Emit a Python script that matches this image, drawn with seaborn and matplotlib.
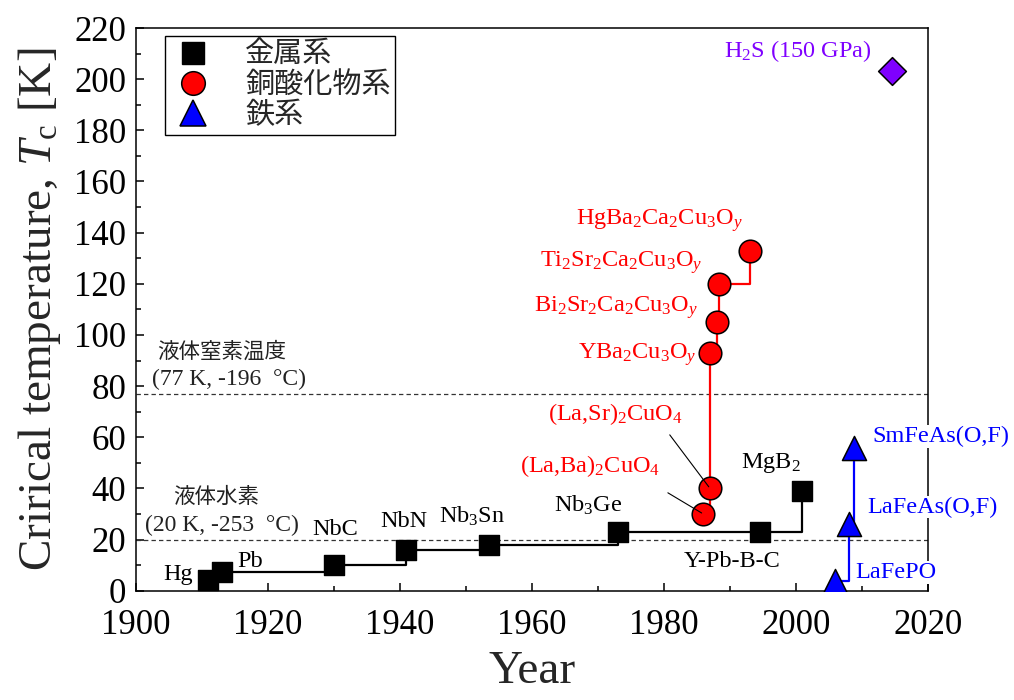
import matplotlib
matplotlib.use("Agg")
import matplotlib.pyplot as plt
from matplotlib.lines import Line2D
from matplotlib.ticker import MultipleLocator
import pandas as pd
import seaborn as sns

# ---- data: discovery year and critical temperature (K) ----
metal_names = ["Hg", "Pb", "NbC", "NbN", "Nb$_3$Sn", "Nb$_3$Ge", "Y-Pb-B-C", "MgB$_2$"]
metal_year = [1911, 1913, 1930, 1941, 1953.5, 1973, 1994.5, 2001]
metal_tc = [4.2, 7.2, 10, 16, 18, 23, 23, 39]

cuprate_names = ["(La,Ba)$_2$CuO$_4$", "(La,Sr)$_2$CuO$_4$", "YBa$_2$Cu$_3$O$_y$",
                 "Bi$_2$Sr$_2$Ca$_2$Cu$_3$O$_y$", "Ti$_2$Sr$_2$Ca$_2$Cu$_3$O$_y$",
                 "HgBa$_2$Ca$_2$Cu$_3$O$_y$"]
cuprate_year = [1986, 1987, 1987, 1988, 1988.3, 1993]
cuprate_tc = [30, 40, 93, 105, 120, 133]

iron_names = ["LaFePO", "LaFeAs(O,F)", "SmFeAs(O,F)"]
iron_year = [2006, 2008, 2008.8]
iron_tc = [4, 26, 56]

hydride_names = ["H$_2$S (150 GPa)"]
hydride_year = [2014.5]
hydride_tc = [203]

legend_labels = ["金属系", "銅酸化物系", "鉄系"]
ref_levels = [77, 20]
ref_titles = ["液体窒素温度", "液体水素"]
ref_details = ["(77 K, -196  °C)", "(20 K, -253  °C)"]

# ---- label placement (offsets in points from each marker) ----
metal_offsets = [(-11, 0, "right"), (11, 4, "left"), (0.7, 22, "center"), (-2, 16.5, "center"),
                 (-12, 16, "center"), (-21.5, 14.5, "center"), (-20, -25, "center"),
                 (-23, 16.7, "center")]
cuprate_offsets = [(-31.4, 30.4), (-19.6, 49.4), (-9.5, -4.3), (-13.5, 7.4), (-11.4, 12.2),
                   (-4.9, 18.5)]
iron_offsets = [(14, 2), (13.1, 8.3), (13.6, 4.1)]
leader_offsets = {0: (-25.6, 15.3), 1: (-29, 38.6)}

sns.set_theme(style="ticks")
plt.rcParams["font.family"] = ["Liberation Serif", "Noto Sans CJK JP"]
plt.rcParams["mathtext.fontset"] = "custom"
plt.rcParams["mathtext.rm"] = "Liberation Serif"
plt.rcParams["mathtext.it"] = "Liberation Serif:italic"
plt.rcParams["mathtext.bf"] = "Liberation Serif:bold"

RED = "#ff0000"
BLUE = "#0000ff"
PURPLE = "#7f00ff"
JP = ["Noto Sans CJK JP", "DejaVu Sans"]
LABEL_SIZE = 17.5

fig = plt.figure(figsize=(10.14, 7.0), dpi=100)
ax = fig.add_axes([0.134, 0.156, 0.781, 0.804])

metals = pd.DataFrame({"year": metal_year, "tc": metal_tc})
cuprates = pd.DataFrame({"year": cuprate_year, "tc": cuprate_tc})
irons = pd.DataFrame({"year": iron_year, "tc": iron_tc})
hydrides = pd.DataFrame({"year": hydride_year, "tc": hydride_tc})

# reference temperatures
for lvl in ref_levels:
    ax.axhline(lvl, color="#333333", lw=0.9, ls=(0, (3.5, 2.5)), zorder=1)

# record-progression step lines
for df, col in [(metals, "black"), (cuprates, RED), (irons, BLUE)]:
    sns.lineplot(data=df, x="year", y="tc", ax=ax, estimator=None, sort=False,
                 drawstyle="steps-post", color=col, lw=1.6, zorder=2)

# markers
sns.scatterplot(data=metals, x="year", y="tc", ax=ax, marker="s", s=225,
                color="black", edgecolor="black", linewidth=1, zorder=2.6)
sns.scatterplot(data=cuprates, x="year", y="tc", ax=ax, marker="o", s=265,
                color=RED, edgecolor="black", linewidth=1.1, zorder=2.6)
sns.scatterplot(data=irons, x="year", y="tc", ax=ax, marker="^", s=300,
                color=BLUE, edgecolor="black", linewidth=1.1, zorder=2.6)
sns.scatterplot(data=hydrides, x="year", y="tc", ax=ax, marker="D", s=200,
                color=PURPLE, edgecolor="black", linewidth=1.1, zorder=2.6)

# labels
for name, x, y, (dx, dy, ha) in zip(metal_names, metal_year, metal_tc, metal_offsets):
    ax.annotate(name, (x, y), xytext=(dx, dy), textcoords="offset points",
                ha=ha, va="baseline", fontsize=LABEL_SIZE, color="black")
for i, (name, x, y, (dx, dy)) in enumerate(zip(cuprate_names, cuprate_year, cuprate_tc,
                                                 cuprate_offsets)):
    ax.annotate(name, (x, y), xytext=(dx, dy), textcoords="offset points",
                ha="right", va="baseline", fontsize=LABEL_SIZE, color=RED)
    if i in leader_offsets:
        ax.annotate("", (x, y), xytext=leader_offsets[i], textcoords="offset points",
                    arrowprops=dict(arrowstyle="-", color="black", lw=0.8,
                                    shrinkA=0, shrinkB=1.5), zorder=4)
for name, x, y, (dx, dy) in zip(iron_names, iron_year, iron_tc, iron_offsets):
    ax.annotate(name, (x, y), xytext=(dx, dy), textcoords="offset points",
                ha="left", va="baseline", fontsize=LABEL_SIZE, color=BLUE,
                annotation_clip=False, bbox=dict(fc="white", ec="none", pad=0.5), zorder=5)
for name, x, y in zip(hydride_names, hydride_year, hydride_tc):
    ax.annotate(name, (x, y), xytext=(-14.2, 10.4), textcoords="offset points",
                ha="right", va="baseline", fontsize=LABEL_SIZE, color=PURPLE)

# reference-level captions
for lvl, title, detail, tx, dx in zip(ref_levels, ref_titles, ref_details,
                                      [1903.3, 1905.6], [1902.4, 1901.4]):
    ax.text(tx, lvl + 14.3, title, fontsize=15.5, family=JP, color="#222222",
            ha="left", va="baseline")
    ax.text(dx, lvl + 3.5, detail, fontsize=17, color="#222222", ha="left", va="baseline")

ax.set_xlim(1900, 2020)
ax.set_ylim(0, 220)
ax.xaxis.set_major_locator(MultipleLocator(20))
ax.xaxis.set_minor_locator(MultipleLocator(10))
ax.yaxis.set_major_locator(MultipleLocator(20))
ax.yaxis.set_minor_locator(MultipleLocator(10))
ax.tick_params(which="both", direction="in", colors="black", width=1.1)
ax.tick_params(which="major", length=6, labelsize=25)
ax.tick_params(axis="x", which="major", pad=13)
ax.tick_params(axis="y", which="major", pad=7)
ax.tick_params(which="minor", length=3.5)
for sp in ax.spines.values():
    sp.set_visible(True)
    sp.set_color("black")
    sp.set_linewidth(1.1)

ax.set_xlabel("Year", fontsize=34, labelpad=6)
ax.set_ylabel("Crirical temperature, $\\mathit{T}_\\mathrm{c}$ [K]", fontsize=34, labelpad=8)

handles = [
    Line2D([], [], ls="none", marker="s", ms=16, mfc="black", mec="black"),
    Line2D([], [], ls="none", marker="o", ms=17, mfc=RED, mec="black", mew=1.1),
    Line2D([], [], ls="none", marker="^", ms=19, mfc=BLUE, mec="black", mew=1.1),
]
leg = ax.legend(handles, legend_labels, loc="upper left",
                bbox_to_anchor=(29 / 792, 1 - 8 / 563), borderaxespad=0,
                prop={"family": JP, "size": 21}, frameon=True, fancybox=False,
                framealpha=1, edgecolor="black", borderpad=0.15, labelspacing=0.0,
                handlelength=1.6, handletextpad=1.0)
leg.get_frame().set_linewidth(1.0)

fig.savefig("out.png", dpi=100)
